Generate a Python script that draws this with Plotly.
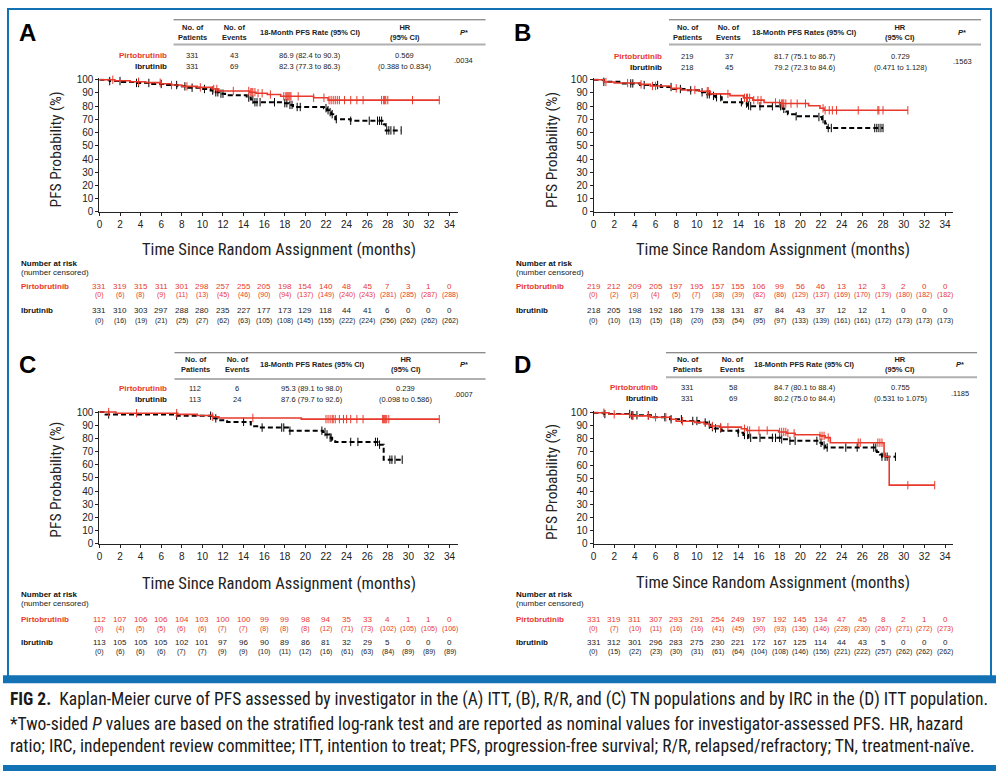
import bisect
import plotly.graph_objects as go

W, H = 996, 777
RED = "#e8392b"
BLUE = "#1272b3"
FONT = "Liberation Sans, Arial, sans-serif"
NARROW = "Liberation Sans Narrow, Arial Narrow, Roboto Condensed, DejaVu Sans Condensed, sans-serif"

# ---------------- data ----------------
risk_times = list(range(0, 35, 2))

# Panel A (ITT, investigator)
A_pir_t = [0, 1.5, 3, 4.5, 6, 7, 8, 9.5, 11, 11.6, 14.6, 15.2, 16.3, 17.6, 20.8, 22.2]
A_pir_s = [100, 99.2, 98.5, 97.8, 97, 96, 95, 94.2, 93, 91.5, 90.6, 89.8, 88.8, 87.5, 86.4, 84.6]
A_pir_end = 33.0
A_pir_cens = [1.3, 3.8, 5.9, 7.0, 8.5, 9.8, 11.1, 11.4, 13.0, 14.5, 14.7, 14.8, 14.9, 15.1, 15.4, 15.8,
              16.6, 17.9, 18.1, 18.2, 18.3, 18.4, 18.5, 18.6, 19.3, 20.8, 21.8, 22.3, 22.5, 22.7, 22.9,
              23.1, 23.3, 23.8, 24.4, 25.0, 25.6, 27.4, 27.6, 27.7, 27.8, 28.0, 30.4, 33.0]
A_ibr_t = [0, 1, 2.2, 3.5, 5, 6.3, 7.6, 8.6, 9.7, 10.8, 11.2, 11.6, 12.2, 14.3, 14.7, 15.0, 17.8, 18.4,
           18.8, 19.0, 21.8, 22.1, 22.3, 22.5, 22.7, 22.9, 24.4, 27.6, 27.8]
A_ibr_s = [100, 99, 98.3, 97.6, 96.8, 96, 95, 94, 93, 91.8, 90.5, 89.5, 88.2, 86.5, 85, 83, 82.3, 81,
           80, 79.4, 78.5, 77, 75.5, 74, 72, 70.2, 69, 66.4, 61.7]
A_ibr_end = 29.3
A_ibr_cens = [1.0, 2.0, 3.6, 3.8, 4.8, 6.0, 7.5, 8.3, 9.0, 10.2, 11.0, 11.3, 11.5, 11.8, 12.0, 14.5,
              14.9, 15.1, 15.3, 15.6, 17.0, 18.0, 18.2, 18.5, 18.7, 19.2, 19.5, 22.0, 22.2, 22.4, 22.6,
              23.0, 24.4, 26.2, 27.0, 27.2, 27.4, 27.9, 28.1, 28.3, 28.6, 29.3]
A_pir_risk = [331, 319, 315, 311, 301, 298, 257, 255, 205, 198, 154, 140, 48, 45, 7, 3, 1, 0]
A_pir_nc = [0, 6, 8, 9, 11, 13, 45, 46, 90, 94, 137, 149, 240, 243, 281, 285, 287, 288]
A_ibr_risk = [331, 310, 303, 297, 288, 280, 235, 227, 177, 173, 129, 118, 44, 41, 6, 0, 0, 0]
A_ibr_nc = [0, 16, 19, 21, 25, 27, 62, 63, 105, 108, 145, 155, 222, 224, 256, 262, 262, 262]
A_table = {"rate_hdr": "18-Month PFS Rate (95% CI)",
           "pir": ["331", "43", "86.9 (82.4 to 90.3)"], "ibr": ["331", "69", "82.3 (77.3 to 86.3)"],
           "hr": ["0.569", "(0.388 to 0.834)"], "p": ".0034"}

# Panel B (R/R)
B_pir_t = [0, 1, 2, 4.5, 5.5, 7.5, 8.5, 10.2, 11.3, 13.2, 14.5, 15.4, 16.5, 18.0, 20.8, 21.9, 22.3]
B_pir_s = [100, 98.3, 97.5, 96.5, 95.3, 93.5, 92.3, 91.3, 89.3, 88, 86.3, 84.6, 82.8, 82, 80.3, 78.4, 76.9]
B_pir_end = 30.4
B_pir_cens = [1.2, 3.3, 4.6, 5.7, 6.0, 8.0, 9.8, 11.0, 11.1, 13.0, 14.6, 14.8, 14.9, 15.1, 15.5, 15.9,
              16.2, 17.6, 18.0, 18.2, 18.3, 18.4, 18.6, 19.1, 19.7, 20.5, 22.2, 22.4, 22.8, 23.1, 23.5,
              25.6, 27.5, 27.6, 28.0, 30.4]
B_ibr_t = [0, 1, 2.5, 4.5, 6.5, 7.7, 8.8, 10.2, 11.0, 11.4, 11.8, 12.4, 14.4, 14.9, 15.1, 18.3, 18.6,
           18.8, 19.6, 21.8, 22.1, 22.4, 22.6]
B_ibr_s = [100, 98.4, 97.2, 96, 94.5, 93, 92, 90.5, 89, 87.8, 86.8, 83, 82, 80.5, 80, 78, 76, 74,
           72.4, 71.8, 70.2, 67, 63.5]
B_ibr_end = 28.0
B_ibr_cens = [1.0, 3.6, 3.8, 4.9, 6.2, 7.5, 8.4, 9.4, 10.5, 11.0, 11.2, 11.6, 11.9, 12.3, 14.3, 14.8,
              15.0, 15.2, 16.1, 17.3, 18.1, 18.4, 19.6, 21.8, 22.2, 22.7, 23.0, 27.2, 27.4, 27.6, 27.8, 28.0]
B_pir_risk = [219, 212, 209, 205, 197, 195, 157, 155, 106, 99, 56, 46, 13, 12, 3, 2, 0, 0]
B_pir_nc = [0, 2, 3, 4, 5, 7, 38, 39, 82, 86, 129, 137, 169, 170, 179, 180, 182, 182]
B_ibr_risk = [218, 205, 198, 192, 186, 179, 138, 131, 87, 84, 43, 37, 12, 12, 1, 0, 0, 0]
B_ibr_nc = [0, 10, 13, 15, 18, 20, 53, 54, 95, 97, 133, 139, 161, 161, 172, 173, 173, 173]
B_table = {"rate_hdr": "18-Month PFS Rates (95% CI)",
           "pir": ["219", "37", "81.7 (75.1 to 86.7)"], "ibr": ["218", "45", "79.2 (72.3 to 84.6)"],
           "hr": ["0.729", "(0.471 to 1.128)"], "p": ".1563"}

# Panel C (TN)
C_pir_t = [0, 1.6, 7.6, 9.5, 11.0, 11.6, 19.6]
C_pir_s = [100, 99.1, 98.2, 97.3, 96.4, 95.5, 94.6]
C_pir_end = 33.0
C_pir_cens = [0.9, 3.6, 7.5, 11.0, 14.9, 22.0, 22.2, 22.4, 22.6, 22.7, 22.9, 23.3, 23.7, 24.0, 24.4,
              25.0, 25.6, 27.5, 27.6, 27.7, 27.8, 27.9, 28.1, 33.0]
C_ibr_t = [0, 0.6, 7.4, 10.9, 11.4, 12.4, 14.7, 15.5, 18.3, 21.7, 22.0, 22.3, 22.6, 22.9, 27.2, 27.6]
C_ibr_s = [100, 98.2, 97.2, 95.2, 93.8, 92.5, 89.2, 88.2, 85.8, 84.8, 83, 80.5, 79, 77.3, 75.2, 63.8]
C_ibr_end = 29.4
C_ibr_cens = [0.9, 7.5, 10.8, 11.3, 14.0, 15.8, 17.7, 17.9, 18.5, 21.6, 21.9, 22.1, 22.4, 22.5, 24.4,
              25.1, 26.8, 27.0, 27.2, 28.2, 28.4, 28.7, 29.4]
C_pir_risk = [112, 107, 106, 106, 104, 103, 100, 100, 99, 99, 98, 94, 35, 33, 4, 1, 1, 0]
C_pir_nc = [0, 4, 5, 5, 6, 6, 7, 7, 8, 8, 8, 12, 71, 73, 102, 105, 105, 106]
C_ibr_risk = [113, 105, 105, 105, 102, 101, 97, 96, 90, 89, 86, 81, 32, 29, 5, 0, 0, 0]
C_ibr_nc = [0, 6, 6, 6, 7, 7, 9, 9, 10, 11, 12, 16, 61, 63, 84, 89, 89, 89]
C_table = {"rate_hdr": "18-Month PFS Rates (95% CI)",
           "pir": ["112", "6", "95.3 (89.1 to 98.0)"], "ibr": ["113", "24", "87.6 (79.7 to 92.6)"],
           "hr": ["0.239", "(0.098 to 0.586)"], "p": ".0007"}

# Panel D (ITT, IRC)
D_pir_t = [0, 1.5, 3.5, 5.5, 7.5, 8.0, 9.8, 10.7, 11.2, 12.2, 14.3, 14.8, 17.9, 18.7, 19.5, 21.9,
           22.4, 22.9, 28.1, 28.6]
D_pir_s = [100, 98.8, 97.6, 96.5, 95, 93.5, 92.6, 91.4, 89.8, 89, 87.7, 86.4, 85.3, 84.3, 83.2, 82.3,
           81, 77.1, 66.5, 44.7]
D_pir_end = 33.0
D_pir_cens = [1.0, 2.0, 3.8, 5.3, 6.0, 7.0, 8.6, 11.5, 12.3, 13.0, 14.6, 14.9, 15.1, 16.0, 16.8, 18.0,
              18.2, 18.4, 18.6, 18.8, 19.4, 21.9, 22.1, 22.3, 22.7, 25.6, 25.8, 27.5, 27.7, 27.9, 30.4, 33.0]
D_ibr_t = [0, 1, 3.6, 5.8, 7.4, 8.6, 10.2, 11.0, 11.3, 11.6, 12.4, 14.0, 14.5, 15.0, 18.2, 18.9, 21.8,
           22.1, 22.4, 27.4, 27.7, 27.9]
D_ibr_s = [100, 99, 98, 96.6, 95, 93.7, 92.5, 90.8, 89, 88, 86.2, 84.7, 83, 80.8, 79.7, 78.5, 77, 75,
           73.4, 70, 68, 66.4]
D_ibr_end = 29.2
D_ibr_cens = [1.1, 3.5, 3.7, 3.8, 4.2, 5.3, 6.9, 7.5, 8.5, 9.6, 10.0, 10.8, 11.2, 11.5, 11.8, 12.3,
              14.0, 14.6, 14.9, 15.2, 16.1, 17.3, 17.6, 18.0, 18.2, 19.0, 19.5, 21.6, 22.0, 22.3, 22.6,
              24.4, 25.5, 27.1, 27.3, 27.9, 28.2, 28.4, 29.2]
D_pir_risk = [331, 319, 311, 307, 293, 291, 254, 249, 197, 192, 145, 134, 47, 45, 8, 2, 1, 0]
D_pir_nc = [0, 7, 10, 11, 16, 16, 41, 45, 90, 93, 136, 146, 228, 230, 267, 271, 272, 273]
D_ibr_risk = [331, 312, 301, 296, 283, 275, 230, 221, 172, 167, 125, 114, 44, 43, 5, 0, 0, 0]
D_ibr_nc = [0, 15, 22, 23, 30, 31, 61, 64, 104, 108, 146, 156, 221, 222, 257, 262, 262, 262]
D_table = {"rate_hdr": "18-Month PFS Rate (95% CI)",
           "pir": ["331", "58", "84.7 (80.1 to 88.4)"], "ibr": ["331", "69", "80.2 (75.0 to 84.4)"],
           "hr": ["0.755", "(0.531 to 1.075)"], "p": ".1185"}

arm_names = ["Pirtobrutinib", "Ibrutinib"]
col_headers = ["No. of<br>Patients", "No. of<br>Events", None, "HR<br>(95% CI)", "<i>P</i>*"]
caption_lines = [
    "<b>FIG 2.</b>  Kaplan-Meier curve of PFS assessed by investigator in the (A) ITT, (B), R/R, and (C) TN populations and by IRC in the (D) ITT population.",
    "*Two-sided <i>P</i> values are based on the stratified log-rank test and are reported as nominal values for investigator-assessed PFS. HR, hazard",
    "ratio; IRC, independent review committee; ITT, intention to treat; PFS, progression-free survival; R/R, relapsed/refractory; TN, treatment-naïve.",
]

# ---------------- layout geometry (pixels) ----------------
def px(x):
    return x / W

def py(y):
    return 1 - y / H

panels = [
    dict(letter="A", ax="", xd=(96.7, 456.2), yd=(210.7, 75.4), let=(25, 29),
         tl=(171, 484, 16, 24, 33, 41, 52, 63), cols=(166, 190, 232, 308, 403, 462),
         rl=16, ry=(262.7, 272, 286, 295, 310.7, 320.7), xt=248.3, yt=(53, 147.5),
         pir=(A_pir_t, A_pir_s, A_pir_end, A_pir_cens), ibr=(A_ibr_t, A_ibr_s, A_ibr_end, A_ibr_cens),
         risk=(A_pir_risk, A_pir_nc, A_ibr_risk, A_ibr_nc), table=A_table),
    dict(letter="B", ax="2", xd=(592.3, 953.2), yd=(210.7, 75.4), let=(521, 29),
         tl=(668, 981, 16, 24, 33, 41, 53, 64), cols=(663, 687, 728, 804, 900, 962),
         rl=513, ry=(262.7, 272, 286, 295, 310.7, 320.7), xt=248.3, yt=(550, 147.5),
         pir=(B_pir_t, B_pir_s, B_pir_end, B_pir_cens), ibr=(B_ibr_t, B_ibr_s, B_ibr_end, B_ibr_cens),
         risk=(B_pir_risk, B_pir_nc, B_ibr_risk, B_ibr_nc), table=B_table),
    dict(letter="C", ax="3", xd=(96.7, 456.2), yd=(546.7, 412.0), let=(25, 365),
         tl=(172, 484, 353.3, 361, 370, 380, 390, 401), cols=(166, 193, 235, 310, 404, 462),
         rl=16, ry=(598.3, 607.7, 623.3, 632.7, 647.3, 656.7), xt=587, yt=(53, 482),
         pir=(C_pir_t, C_pir_s, C_pir_end, C_pir_cens), ibr=(C_ibr_t, C_ibr_s, C_ibr_end, C_ibr_cens),
         risk=(C_pir_risk, C_pir_nc, C_ibr_risk, C_ibr_nc), table=C_table),
    dict(letter="D", ax="4", xd=(592.3, 953.2), yd=(546.7, 412.7), let=(521, 365),
         tl=(665, 977, 353.3, 361, 370, 378, 389, 400), cols=(659, 687, 732, 804, 900, 960),
         rl=513, ry=(598.3, 607.7, 623.3, 632.7, 647.3, 656.7), xt=586, yt=(550, 484),
         pir=(D_pir_t, D_pir_s, D_pir_end, D_pir_cens), ibr=(D_ibr_t, D_ibr_s, D_ibr_end, D_ibr_cens),
         risk=(D_pir_risk, D_pir_nc, D_ibr_risk, D_ibr_nc), table=D_table),
]

fig = go.Figure()
annotations = []
shapes = []


def surv_at(times, surv, t):
    i = bisect.bisect_right(times, t) - 1
    return surv[max(i, 0)]


def ann(text, x, y, size, color="#222", xanchor="center", xref="paper", font=FONT, yanchor="middle"):
    annotations.append(dict(text=text, x=x, y=y, xref=xref, yref="paper", showarrow=False,
                            xanchor=xanchor, yanchor=yanchor,
                            font=dict(size=size, color=color, family=font)))


layout_axes = {}
for p in panels:
    ax = p["ax"]
    xname, yname = "x" + ax, "y" + ax
    layout_axes["xaxis" + ax] = dict(
        domain=[px(p["xd"][0]), px(p["xd"][1])], range=[0, 34.8], anchor=yname,
        tickvals=risk_times, ticks="outside", ticklen=3, tickwidth=1, tickcolor="#222",
        showline=True, linecolor="#222", linewidth=1, showgrid=False, zeroline=False,
        tickfont=dict(size=10, color="#222", family=FONT))
    layout_axes["yaxis" + ax] = dict(
        domain=[py(p["yd"][0]), py(p["yd"][1])], range=[0, 101], anchor=xname,
        tickvals=list(range(0, 101, 10)), ticks="outside", ticklen=3, tickwidth=1, tickcolor="#222",
        showline=True, linecolor="#222", linewidth=1, showgrid=False, zeroline=False,
        tickfont=dict(size=10, color="#222", family=FONT))

    # curves: ibrutinib (dashed black) then pirtobrutinib (red)
    for arm, color, dash, width in ((p["ibr"], "black", "5px,3px", 2), (p["pir"], RED, "solid", 1.6)):
        t, s, end, cens = arm
        fig.add_trace(go.Scatter(x=list(t) + [end], y=list(s) + [s[-1]], mode="lines",
                                 line=dict(color=color, width=width, dash=dash, shape="hv"),
                                 xaxis=xname, yaxis=yname, showlegend=False, hoverinfo="skip"))
        fig.add_trace(go.Scatter(x=cens, y=[surv_at(t, s, c) for c in cens], mode="markers",
                                 marker=dict(symbol="line-ns-open", size=6, color=color,
                                             line=dict(color=color, width=1)),
                                 xaxis=xname, yaxis=yname, showlegend=False, hoverinfo="skip",
                                 cliponaxis=False))

    # panel letter
    ann("<b>%s</b>" % p["letter"], px(p["let"][0]), py(p["let"][1]), 24, "black")

    # axis titles
    xc = (p["xd"][0] + p["xd"][1]) / 2
    ann("Time Since Random Assignment (months)", px(xc), py(p["xt"]), 16.5, "#222", font=NARROW)
    annotations.append(dict(text="PFS Probability (%)", x=px(p["yt"][0]), y=py(p["yt"][1]),
                            xref="paper", yref="paper", showarrow=False, textangle=-90,
                            xanchor="center", yanchor="middle",
                            font=dict(size=15.5, color="#222", family=NARROW)))

    # summary table
    x0, x1, ytop, yh1, yh2, ygray, yr1, yr2 = p["tl"]
    lab, cpat, cevt, crate, chr_, cp = p["cols"]
    shapes.append(dict(type="line", xref="paper", yref="paper", x0=px(x0), x1=px(x1),
                       y0=py(ytop), y1=py(ytop), line=dict(color="#666", width=1)))
    shapes.append(dict(type="line", xref="paper", yref="paper", x0=px(x0), x1=px(x1),
                       y0=py(ygray), y1=py(ygray), line=dict(color="#b0b0b0", width=2)))
    hm = (yh1 + yh2) / 2
    tb = p["table"]
    for cx, h in zip((cpat, cevt, crate, chr_, cp), col_headers):
        text = tb["rate_hdr"] if h is None else h
        ann("<b>%s</b>" % text, px(cx), py(hm), 7.5, "#222")
    ann("<b>%s</b>" % arm_names[0], px(lab), py(yr1), 8, RED, xanchor="right")
    ann("<b>%s</b>" % arm_names[1], px(lab), py(yr2), 8, "#111", xanchor="right")
    for cx, v1, v2 in zip((cpat, cevt, crate), tb["pir"], tb["ibr"]):
        ann(v1, px(cx), py(yr1), 7.5, "#222")
        ann(v2, px(cx), py(yr2), 7.5, "#222")
    ann(tb["hr"][0], px(chr_), py(yr1), 7.5, "#222")
    ann(tb["hr"][1], px(chr_), py(yr2), 7.5, "#222")
    ann(tb["p"], px(cp), py((yr1 + yr2) / 2), 7.5, "#222")

    # number at risk table
    ynar, ync, yp, ypc, yi, yic = p["ry"]
    ann("<b>Number at risk</b>", px(p["rl"]), py(ynar), 8, "#111", xanchor="left")
    ann("(number censored)", px(p["rl"]), py(ync), 8, "#222", xanchor="left")
    ann("<b>Pirtobrutinib</b>", px(p["rl"]), py(yp), 8, RED, xanchor="left")
    ann("<b>Ibrutinib</b>", px(p["rl"]), py(yi), 8, "#111", xanchor="left")
    pr, pnc, ir, inc = p["risk"]
    for i, t in enumerate(risk_times):
        ann(str(pr[i]), t, py(yp), 8, RED, xref=xname)
        ann("(%d)" % pnc[i], t, py(ypc), 7, RED, xref=xname)
        ann(str(ir[i]), t, py(yi), 8, "#222", xref=xname)
        ann("(%d)" % inc[i], t, py(yic), 7, "#222", xref=xname)

# frame
shapes.append(dict(type="path", xref="paper", yref="paper",
                   path="M %f %f L %f %f L %f %f L %f %f" % (px(5), py(684), px(5), py(5),
                                                            px(991), py(5), px(991), py(684)),
                   line=dict(color=BLUE, width=2)))
shapes.append(dict(type="rect", xref="paper", yref="paper", x0=0, x1=1, y0=py(688), y1=py(680),
                   fillcolor=BLUE, line=dict(width=0)))
shapes.append(dict(type="rect", xref="paper", yref="paper", x0=0, x1=1, y0=0, y1=py(771),
                   fillcolor=BLUE, line=dict(width=0)))

# caption
for line, yc in zip(caption_lines, (705, 729, 752)):
    ann(line, px(5), py(yc), 17.5, "#1a1a1a", xanchor="left", font=NARROW)

fig.update_layout(width=W, height=H, autosize=False, margin=dict(l=0, r=0, t=0, b=0),
                  paper_bgcolor="white", plot_bgcolor="white", showlegend=False,
                  annotations=annotations, shapes=shapes, **layout_axes)
fig.write_html("out.html", config={"displayModeBar": False},
               post_script="document.body.style.margin='0';document.body.style.padding='0';")
